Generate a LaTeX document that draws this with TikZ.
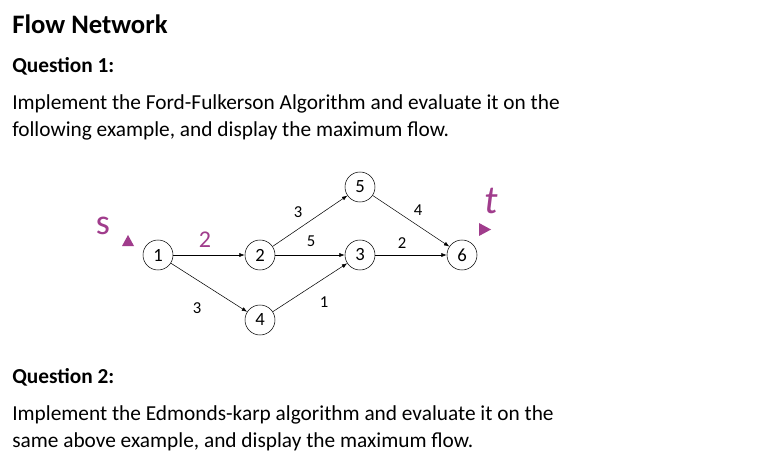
\documentclass[tikz,border=0pt]{standalone}
\usepackage{fontspec}
\setmainfont{Carlito}
\usetikzlibrary{arrows.meta}
\definecolor{mag}{RGB}{160,60,140}
\begin{document}
\begin{tikzpicture}[x=0.75pt,y=-0.75pt,
  vert/.style={circle,draw,thin,minimum size=22.5pt,inner sep=0pt,font=\fontsize{14}{16}\selectfont},
  edge/.style={-{Latex[length=4pt,width=3pt]},thin},
  lbl/.style={font=\fontsize{12.5}{14}\selectfont},
  txt/.style={anchor=west,inner sep=0pt,font=\fontsize{16}{20}\selectfont}]
\useasboundingbox (0,0) rectangle (763,470);
\fill[white] (0,0) rectangle (763,470);
\node[txt,font=\bfseries\fontsize{20}{24}\selectfont] (title) at (12,24) {Flow Network};
\node[txt,font=\bfseries\fontsize{16}{18}\selectfont] (q1) at (12,66) {Question 1:};
\node[txt] (t1) at (12,104) {Implement the Ford-Fulkerson Algorithm and evaluate it on the};
\node[txt] (t2) at (12,131) {following example, and display the maximum flow.};
\node[txt,font=\bfseries\fontsize{16}{18}\selectfont] (q2) at (12,377) {Question 2:};
\node[txt] (t3) at (12,415) {Implement the Edmonds-karp algorithm and evaluate it on the};
\node[txt] (t4) at (12,442) {same above example, and display the maximum flow.};

\node[vert] (n1) at (158,255) {1};
\node[vert] (n2) at (260,255) {2};
\node[vert] (n3) at (360,255) {3};
\node[vert] (n5) at (360,187) {5};
\node[vert] (n6) at (462,255) {6};
\node[vert] (n4) at (260,320) {4};
\draw[edge] (n1) -- (n2);
\draw[edge] (n1) -- (n4);
\draw[edge] (n2) -- (n5);
\draw[edge] (n2) -- (n3);
\draw[edge] (n4) -- (n3);
\draw[edge] (n3) -- (n6);
\draw[edge] (n5) -- (n6);
\node[lbl,text=mag,font=\fontsize{18}{20}\selectfont] (l12) at (205,240) {2};
\node[lbl] (l14) at (197,308) {3};
\node[lbl] (l25) at (298,212) {3};
\node[lbl] (l23) at (311,241) {5};
\node[lbl] (l43) at (324,302) {1};
\node[lbl] (l36) at (402,243) {2};
\node[lbl] (l56) at (418,210) {4};
\node[text=mag,font=\fontsize{27}{28}\selectfont] (s) at (103,226) {s};
\node[text=mag,font=\itshape\fontsize{30}{30}\selectfont] (t) at (491,201) {t};
\fill[mag] (122,246) -- (134,246) -- (128,235) -- cycle;
\fill[mag] (479,223) -- (479,236) -- (491,229.5) -- cycle;
\end{tikzpicture}
\end{document}
